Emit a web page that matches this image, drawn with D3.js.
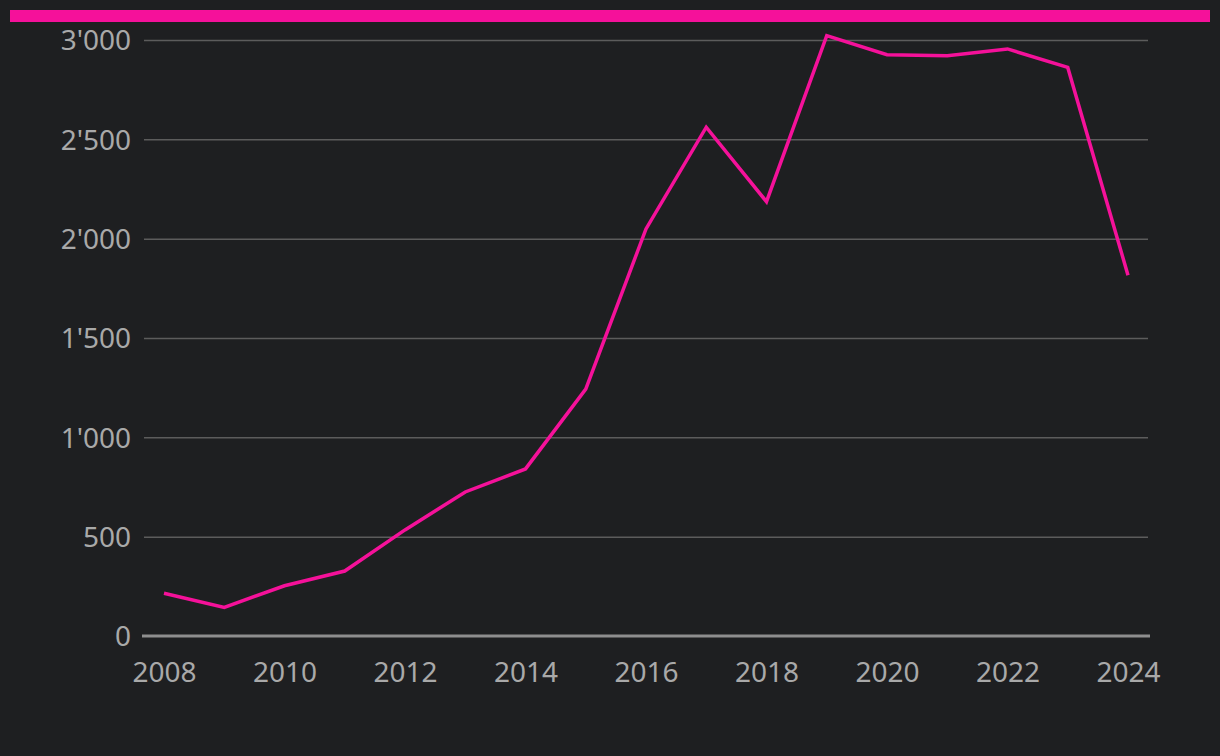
<!DOCTYPE html>
<html><head><meta charset="utf-8">
<script src="https://cdn.jsdelivr.net/npm/d3@7"></script>
<style>
html,body{margin:0;padding:0;background:#1e1f21;}
svg{display:block;}
</style></head>
<body>
<script>
const years = [2008,2009,2010,2011,2012,2013,2014,2015,2016,2017,2018,2019,2020,2021,2022,2023,2024];
const values = [215,144,253,327,534,725,841,1243,2049,2561,2186,3022,2926,2921,2955,2862,1816];
const yTicks = [0,500,1000,1500,2000,2500,3000];
const xTicks = [2008,2010,2012,2014,2016,2018,2020,2022,2024];

const W = 1220, H = 756;
const svg = d3.select("body").append("svg").attr("width", W).attr("height", H);
svg.append("rect").attr("width", W).attr("height", H).attr("fill", "#1e1f21");
svg.append("rect").attr("x", 10).attr("y", 10).attr("width", 1200).attr("height", 12).attr("fill", "#f5119a");

const x = d3.scaleLinear().domain([2008, 2024]).range([164, 1128]);
const y = d3.scaleLinear().domain([0, 3000]).range([636, 40]);
const font = "'Noto Sans', sans-serif";
const textCol = "#a9a9a9";

const yAxis = svg.append("g").attr("transform", "translate(144,0)")
  .call(d3.axisLeft(y).tickValues(yTicks).tickSize(-1004).tickPadding(13)
    .tickFormat(d => d3.format(",")(d).replace(/,/g, "'")));
yAxis.select(".domain").remove();
yAxis.selectAll(".tick line").attr("stroke", "#5c5c5c").attr("stroke-width", 1.5)
  .filter(d => d === 0).remove();
yAxis.selectAll(".tick text").attr("fill", textCol).attr("font-family", font).attr("font-size", 28).attr("dy", "0.35em");

const xAxis = svg.append("g").attr("transform", "translate(0,636)")
  .call(d3.axisBottom(x).tickValues(xTicks).tickSize(0).tickPadding(26).tickFormat(d3.format("d")));
xAxis.select(".domain").remove();
xAxis.selectAll(".tick text").attr("fill", textCol).attr("font-family", font).attr("font-size", 28);

svg.append("line").attr("x1", 142).attr("x2", 1150).attr("y1", y(0)).attr("y2", y(0))
  .attr("stroke", "#8e8e8e").attr("stroke-width", 3);

const line = d3.line().x((d, i) => x(years[i])).y(d => y(d));
svg.append("path").datum(values).attr("d", line).attr("fill", "none")
  .attr("stroke", "#f5119a").attr("stroke-width", 3.5).attr("stroke-linejoin", "miter");
</script>
</body></html>
